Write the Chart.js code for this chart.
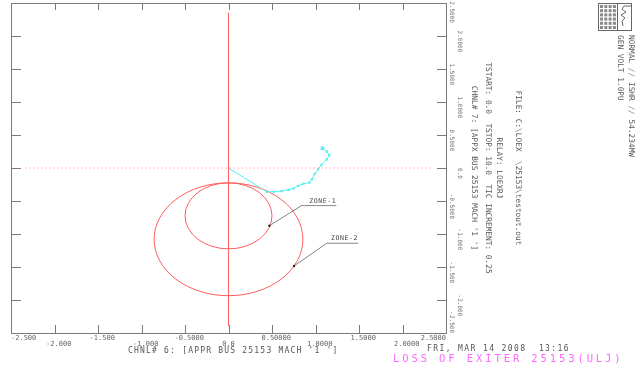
<!DOCTYPE html>
<html>
<head>
<meta charset="utf-8">
<script src="https://cdn.jsdelivr.net/npm/chart.js@4.4.1/dist/chart.umd.min.js"></script>
<style>
html, body { margin: 0; padding: 0; background: #fff; }
#wrap { width: 640px; height: 369px; position: relative; }
</style>
</head>
<body>
<div id="wrap"><canvas id="relay"></canvas></div>
<script>
// apparent impedance seen by relay LOEXRJ (R, X in pu)
var trajR = [0.00, 0.44, 0.52, 0.61, 0.69, 0.75, 0.80, 0.86, 0.93, 0.96, 0.99, 1.03, 1.07, 1.13, 1.16, 1.13, 1.08];
var trajX = [0.00, -0.36, -0.36, -0.35, -0.33, -0.31, -0.27, -0.24, -0.22, -0.17, -0.09, -0.02, 0.05, 0.13, 0.20, 0.25, 0.30];

// relay zones: centre and radius
var zoneNames = ['ZONE-1', 'ZONE-2'];
var zoneCenterR = [0.0, 0.0];
var zoneCenterX = [-0.725, -1.08];
var zoneRadius = [0.50, 0.855];

// leader lines for the zone labels (point on circle, bend, end)
var leader1R = [0.47, 0.84, 1.24];
var leader1X = [-0.875, -0.57, -0.57];
var leader2R = [0.753, 1.13, 1.49];
var leader2X = [-1.485, -1.14, -1.14];

// reference lines
var vertR = [0, 0];
var vertX = [2.35, -2.39];
var horizR = [-2.33, 2.35];
var horizX = [0, 0];

var xTickLabels = ['-2.500', '-2.000', '-1.500', '-1.000', '-0.5000', '0.0', '0.50000', '1.0000', '1.5000', '2.0000', '2.5000'];
var yTickLabels = ['-2.500', '-2.000', '-1.500', '-1.000', '-0.5000', '0.0', '0.5000', '1.0000', '1.5000', '2.0000', '2.5000'];

function pts(xs, ys) {
    return xs.map(function (v, i) { return { x: v, y: ys[i] }; });
}

function pad(s, lead, trail) {
    return ' '.repeat(lead) + s + ' '.repeat(trail);
}

var MONO = '"DejaVu Sans Mono", "Liberation Mono", monospace';

function vtext(ctx, s, x, y, align) {
    ctx.save();
    ctx.translate(x, y);
    ctx.rotate(Math.PI / 2);
    ctx.textAlign = align;
    ctx.textBaseline = 'middle';
    ctx.fillText(s, 0, 0);
    ctx.restore();
}

function htext(ctx, s, x, y, size, spacing, color) {
    ctx.save();
    ctx.font = size + 'px ' + MONO;
    ctx.fillStyle = color;
    ctx.textAlign = 'left';
    ctx.textBaseline = 'middle';
    if ('letterSpacing' in ctx) ctx.letterSpacing = spacing + 'px';
    ctx.fillText(s, x, y);
    ctx.restore();
}

var relayDecor = {
    id: 'relayDecor',
    beforeDatasetsDraw: function (chart) {
        var ctx = chart.ctx, xs = chart.scales.x, ys = chart.scales.y;
        ctx.save();
        ctx.strokeStyle = '#ff5c5c';
        ctx.lineWidth = 1;
        for (var i = 0; i < zoneRadius.length; i++) {
            var cx = xs.getPixelForValue(zoneCenterR[i]);
            var cy = ys.getPixelForValue(zoneCenterX[i]);
            var rx = xs.getPixelForValue(zoneCenterR[i] + zoneRadius[i]) - cx;
            var ry = cy - ys.getPixelForValue(zoneCenterX[i] + zoneRadius[i]);
            ctx.beginPath();
            ctx.ellipse(cx, cy, rx, ry, 0, 0, 2 * Math.PI);
            ctx.stroke();
        }
        ctx.restore();
    },
    afterDraw: function (chart) {
        var ctx = chart.ctx, xs = chart.scales.x, ys = chart.scales.y, a = chart.chartArea;
        ctx.save();
        // frame
        ctx.strokeStyle = '#7a7a7a';
        ctx.lineWidth = 1;
        ctx.strokeRect(a.left + 0.5, a.top + 0.5, a.right - a.left, a.bottom - a.top);
        // inward tick marks
        ctx.beginPath();
        xs.ticks.forEach(function (t, i) {
            if (i == 0 || i == xs.ticks.length - 1) return;
            var px = Math.round(xs.getPixelForValue(t.value)) + 0.5;
            ctx.moveTo(px, a.bottom); ctx.lineTo(px, a.bottom - 8);
            ctx.moveTo(px, a.top); ctx.lineTo(px, a.top + 7);
        });
        ys.ticks.forEach(function (t, i) {
            if (i == 0 || i == ys.ticks.length - 1) return;
            var py = Math.round(ys.getPixelForValue(t.value)) + 0.5;
            ctx.moveTo(a.left, py); ctx.lineTo(a.left + 10, py);
            ctx.moveTo(a.right, py); ctx.lineTo(a.right - 9, py);
        });
        ctx.stroke();

        // zone labels above the leader ends
        ctx.fillStyle = '#444';
        ctx.font = '6.5px ' + MONO;
        ctx.textAlign = 'right';
        ctx.textBaseline = 'alphabetic';
        if ('letterSpacing' in ctx) ctx.letterSpacing = '0.6px';
        var ends = [[leader1R[2], leader1X[2]], [leader2R[2], leader2X[2]]];
        ends.forEach(function (e, i) {
            ctx.fillText(zoneNames[i], xs.getPixelForValue(e[0]), ys.getPixelForValue(e[1]) - 3);
        });
        if ('letterSpacing' in ctx) ctx.letterSpacing = '0px';

        // rotated header block
        ctx.fillStyle = '#555';
        ctx.font = '7.8px ' + MONO;
        vtext(ctx, 'NORMAL // ISHR // 54.234MW', 631, 35, 'left');
        vtext(ctx, 'GEN VOLT 1.0PU', 620, 35, 'left');
        vtext(ctx, 'FILE: C:\\LOEX  \\25153\\testout.out', 518, 168, 'center');
        vtext(ctx, 'RELAY: LOEXRJ', 499, 168, 'center');
        vtext(ctx, 'TSTART: 0.0  TSTOP: 10.0  TIC INCREMENT: 0.25', 488, 168, 'center');
        vtext(ctx, "CHNL# 7: [APPX BUS 25153 MACH '1 ']", 474, 168, 'center');

        // logo box
        ctx.strokeStyle = '#666';
        ctx.strokeRect(598.5, 3.5, 33, 27);
        ctx.beginPath();
        ctx.moveTo(617.5, 3.5); ctx.lineTo(617.5, 30.5);
        ctx.moveTo(631, 6); ctx.lineTo(624, 6);
        ctx.lineTo(622, 9); ctx.lineTo(626, 12); ctx.lineTo(621, 15);
        ctx.lineTo(625, 18); ctx.lineTo(622, 21); ctx.lineTo(623, 26);
        ctx.stroke();
        ctx.fillStyle = '#888';
        for (var c = 0; c < 4; c++) {
            for (var r = 0; r < 6; r++) {
                ctx.fillRect(600 + c * 4.3, 5 + r * 4.2, 3, 3);
            }
        }

        ctx.restore();

        // bottom captions
        htext(ctx, "CHNL# 6: [APPR BUS 25153 MACH '1 ']", 128, 351, 8, 1.2, '#555');
        htext(ctx, 'FRI, MAR 14 2008  13:16', 427, 349, 8, 1.4, '#555');
        htext(ctx, 'LOSS OF EXITER 25153(ULJ)', 393, 359.5, 10.5, 2.9, '#ff66ff');
    }
};

var ctx = document.getElementById('relay').getContext('2d');
var relayChart = new Chart(ctx, {
    type: 'scatter',
    data: {
        datasets: [
            {
                data: pts(vertR, vertX), showLine: true, borderColor: '#ff6060',
                borderWidth: 1, pointRadius: 0
            },
            {
                data: pts(horizR, horizX), showLine: true, borderColor: '#ff8080',
                borderWidth: 1, borderDash: [1, 3], pointRadius: 0
            },
            {
                data: pts(leader1R, leader1X), showLine: true, borderColor: '#666',
                borderWidth: 0.8, pointRadius: [1.2, 0, 0], pointBackgroundColor: '#222',
                pointBorderWidth: 0
            },
            {
                data: pts(leader2R, leader2X), showLine: true, borderColor: '#666',
                borderWidth: 0.8, pointRadius: [1.2, 0, 0], pointBackgroundColor: '#222',
                pointBorderWidth: 0
            },
            {
                data: pts(trajR, trajX), showLine: true, borderColor: '#55eef0',
                borderWidth: 1, pointStyle: 'rect',
                pointRadius: trajR.map(function (v, i) { return i == trajR.length - 1 ? 2.5 : (i == 0 ? 1 : 1.6); }),
                pointBackgroundColor: '#55eef0', pointBorderColor: '#55eef0', pointBorderWidth: 0
            }
        ]
    },
    options: {
        responsive: true,
        maintainAspectRatio: false,
        animation: false,
        events: [],
        layout: { padding: { left: 11, top: 3, right: 0, bottom: 0 }, autoPadding: false },
        plugins: { legend: { display: false }, tooltip: { enabled: false } },
        scales: {
            x: {
                type: 'linear', position: 'bottom', min: -2.5, max: 2.5,
                grid: { display: false, drawTicks: false },
                border: { display: false },
                ticks: {
                    stepSize: 0.5, autoSkip: false, maxRotation: 0, padding: 2,
                    color: '#666',
                    font: { family: MONO, size: 7, lineHeight: 0.86 },
                    callback: function (v, i, all) {
                        // end labels are pushed inside the frame, the rest sit a little right of the tick
                        var s = xTickLabels[i];
                        if (i == 0) s = pad(s, 6, 0);
                        else if (i == all.length - 1) s = pad(s, 0, 6);
                        else if (s != '0.0') s = pad(s, 2, 0);
                        return i % 2 == 0 ? [s, ''] : ['', s];
                    }
                },
                afterFit: function (s) { s.height = 36; s.paddingLeft = 0; s.paddingRight = 0; }
            },
            y: {
                type: 'linear', position: 'right', min: -2.5, max: 2.5,
                grid: { display: false, drawTicks: false },
                border: { display: false },
                ticks: {
                    stepSize: 0.5, autoSkip: false, minRotation: -90, maxRotation: -90,
                    crossAlign: 'center', padding: -12.2,
                    color: '#666',
                    font: { family: MONO, size: 6, lineHeight: 1.38 },
                    callback: function (v, i, all) {
                        var s = yTickLabels[i];
                        if (i == 0) s = pad(s, 0, 6);
                        else if (i == all.length - 1) s = pad(s, 5, 0);
                        else s = pad(s, 3, 0);
                        return i % 2 == 0 ? ['', s] : [s, ''];
                    }
                },
                afterFit: function (s) { s.width = 194; s.paddingTop = 0; s.paddingBottom = 0; }
            }
        }
    },
    plugins: [relayDecor]
});
</script>
</body>
</html>
